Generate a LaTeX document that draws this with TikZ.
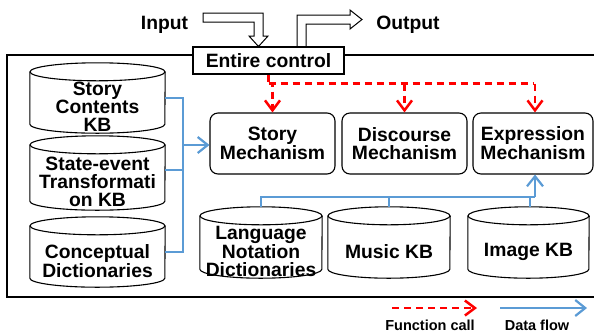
\documentclass[tikz,border=0pt]{standalone}
\usepackage{fontspec}
\setmainfont{Liberation Sans}
\usetikzlibrary{arrows.meta,calc,backgrounds}
\definecolor{dfblue}{RGB}{91,155,213}
\definecolor{fcred}{RGB}{255,0,0}
\newcommand\drawcyl[2]{%
  \fill[white] ($(#1.north west)+(0,-9)$) -- ($(#1.south west)+(0,-9)$)
     arc[start angle=180,end angle=360,x radius=#2pt,y radius=9pt] -- ($(#1.north east)+(0,-9)$) -- cycle;
  \draw[edge] ($(#1.north west)+(0,-9)$) -- ($(#1.south west)+(0,-9)$)
     arc[start angle=180,end angle=360,x radius=#2pt,y radius=9pt] -- ($(#1.north east)+(0,-9)$);
  \draw[edge,fill=white] ($(#1.north)+(0,-9)$) ellipse[x radius=#2pt,y radius=9pt];
}
\begin{document}
\begin{tikzpicture}[x=1pt,y=-1pt,
  edge/.style={line width=1.1pt,black},
  txt/.style={font=\bfseries\fontsize{19.3}{17.8}\selectfont, align=center, inner sep=0pt},
  small/.style={font=\bfseries\fontsize{14.5}{14.5}\selectfont, inner sep=0pt},
  cylnode/.style={txt, minimum width=#1pt},
  mech/.style={txt, draw, edge, fill=white, rounded corners=8pt, minimum height=61pt},
  fc/.style={line width=2.5pt, fcred, dash pattern=on 7pt off 5pt},
  fctip/.style={-{Straight Barb[length=10pt,width=15pt]}},
  df/.style={line width=2.2pt, dfblue},
  dftip/.style={-{Straight Barb[length=10pt,width=16pt]}}
]
\useasboundingbox (0,0) rectangle (594,333);

% background and outer frame
\begin{pgfonlayer}{background}
\fill[white] (0,0) rectangle (594,333);
\draw[edge] (594.6,55) -- (7,55) -- (7,297) -- (594.6,297);
\end{pgfonlayer}

% cylinders (left)
\node[cylnode=135, minimum height=52pt] (scb) at (97.5,107) {Story\\Contents\\KB};
\node[cylnode=135, minimum height=56pt] (set) at (97.5,182) {State-event\\Transformati\\on KB};
\node[cylnode=135, minimum height=52pt] (cd) at (97.5,261) {Conceptual\\Dictionaries};
% cylinders (bottom)
\node[cylnode=122, minimum height=53pt] (lnd) at (261,251.5) {Language\\Notation\\Dictionaries};
\node[cylnode=122, minimum height=53pt] (mus) at (389,251.5) {Music KB};
\node[cylnode=121, minimum height=53pt] (img) at (528.5,251.5) {Image KB};

\begin{pgfonlayer}{background}
\drawcyl{scb}{67.5}
\drawcyl{set}{67.5}
\drawcyl{cd}{67.5}
\drawcyl{lnd}{61}
\drawcyl{mus}{61}
\drawcyl{img}{60.5}
\end{pgfonlayer}

% mechanisms
\node[mech, minimum width=125pt] (story) at (272.5,143.5) {Story\\Mechanism};
\node[mech, minimum width=125pt] (disc) at (404.5,143.5) {Discourse\\Mechanism};
\node[mech, minimum width=120pt] (expr) at (533,143.5) {Expression\\Mechanism};

% entire control
\node[txt, draw, edge, fill=white, minimum width=151pt, minimum height=27pt] (ec) at (268.5,60.5) {Entire control};

% input / output
\node[txt] (input) at (164.5,25) {Input};
\node[txt] (output) at (408,25) {Output};
\draw[edge, line width=1pt] (203,13) -- (263,13) -- (263,36) -- (268,36) -- (258.5,46.5) -- (249,36) -- (254,36) -- (254,22) -- (203,22) -- cycle;
\draw[edge, line width=1pt] (297,47) -- (297,15) -- (350,15) -- (350,10) -- (362,19.5) -- (350,29) -- (350,24) -- (306,24) -- (306,47);

% function calls
\coordinate (bus) at ($(ec.south)+(0,9)$);
\draw[fc] (ec.south) -- (bus);
\draw[fc,fctip] (bus) -- (bus -| story.north) -- (story.north);
\draw[fc] (bus) -- (bus -| expr.north);
\draw[fc,fctip] (bus -| disc.north) -- (disc.north);
\draw[fc,fctip] (bus -| expr.north) ++(2,0) -- ($(expr.north)+(2,0)$);

% data flow left
\coordinate (jn) at (183,145);
\draw[df] ($(scb.east)+(0,-9)$) -| (jn);
\draw[df] ($(set.east)+(0,-12)$) -| (jn);
\draw[df] ($(cd.east)+(0,-9)$) -| (jn);
\draw[df,dftip] (jn) -- (jn -| story.west);

% data flow bottom
\coordinate (bb) at (535,197);
\draw[df] ($(lnd.north)+(0,-18)$) |- (bb);
\draw[df] ($(mus.north)+(0,-18)$) -- (bb -| mus.north);
\draw[df] ($(img.north)+(1.5,-18)$) -- ($(bb -| img.north)+(1.5,0)$);
\draw[df,dftip] (bb) -- (bb |- expr.south);

% legend
\coordinate (fcA) at (392,308);
\coordinate (fcB) at (477,308);
\coordinate (dfA) at (500,308);
\coordinate (dfB) at (587,308);
\draw[fc,fctip] (fcA) -- (fcB);
\draw[df,dftip] (dfA) -- (dfB);
\node[small] (fclab) at (430,325) {Function call};
\node[small] (dflab) at (537,325) {Data flow};
\end{tikzpicture}
\end{document}
